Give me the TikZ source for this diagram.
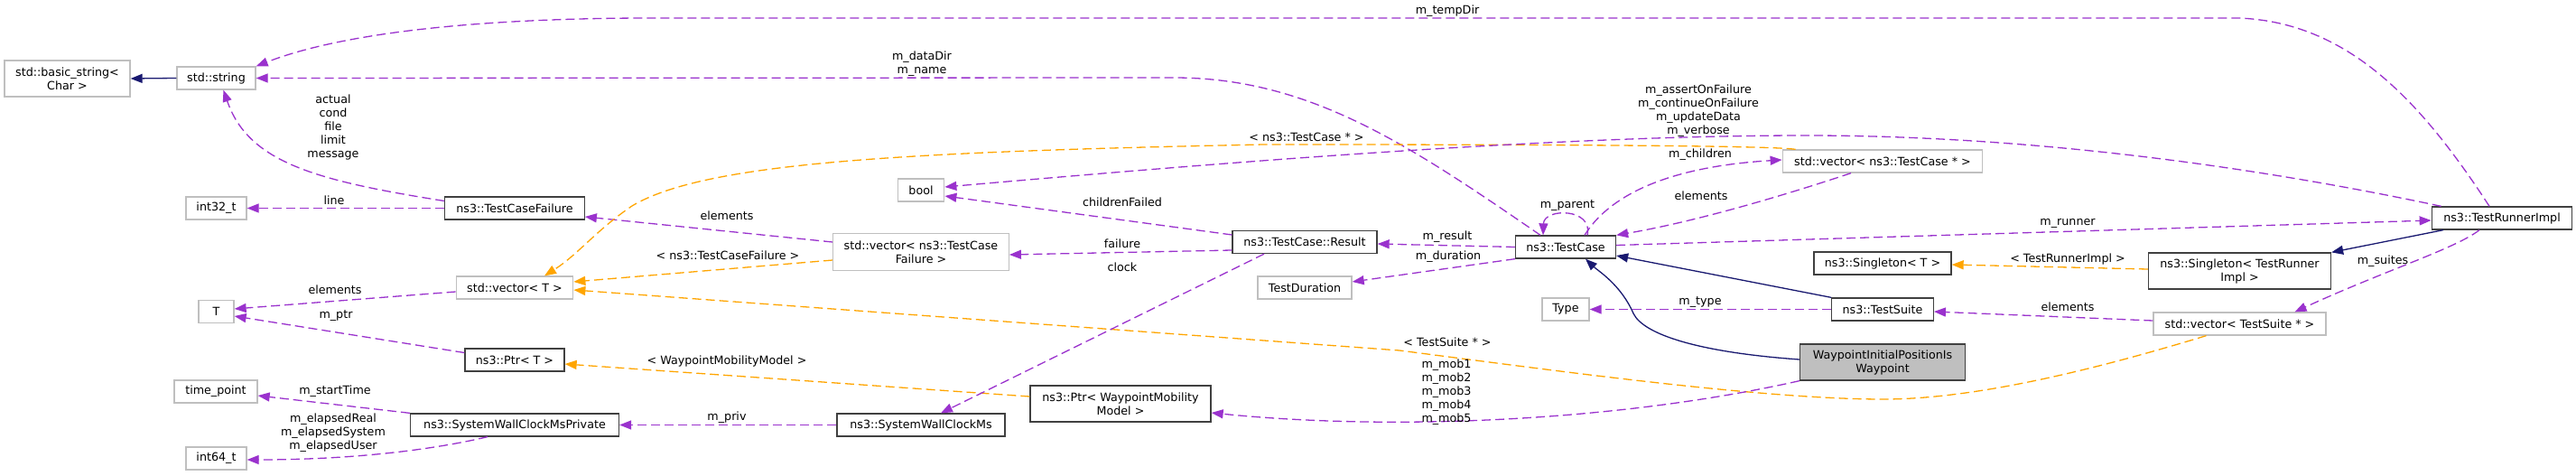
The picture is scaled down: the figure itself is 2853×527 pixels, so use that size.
\documentclass[tikz,border=0pt]{standalone}
\usepackage{fontspec}
\setmainfont{DejaVu Sans}
\usepackage{tikz}
\usetikzlibrary{arrows.meta}
\definecolor{dxpurple}{HTML}{9A32CD}
\definecolor{dxorange}{HTML}{FFA500}
\definecolor{dxnavy}{HTML}{191970}
\definecolor{dxgray}{HTML}{BFBFBF}
\definecolor{dxdark}{HTML}{404040}

\begin{document}
\begin{tikzpicture}[x=1pt,y=-1pt,>={Triangle[length=13pt,width=10pt]},line width=1.3pt,
  font=\fontsize{12.7}{15}\selectfont,
  cls/.style={draw=dxdark,fill=white,minimum height=25pt,inner xsep=3pt,inner ysep=2pt,align=center},
  ext/.style={cls,draw=dxgray},
  focus/.style={cls,fill=dxgray},
  uses/.style={->,dxpurple,dash pattern=on 10pt off 5pt},
  tmpl/.style={->,dxorange,dash pattern=on 10pt off 5pt},
  inh/.style={->,dxnavy},
  lbl/.style={inner sep=0pt,align=center,text=black}]
  \useasboundingbox (0,0) rectangle (2853,527);

  \node[ext, minimum width=139pt, minimum height=40pt] (bstr) at (74.5,87) {std::basic\_string<\\Char >};
  \node[ext, minimum width=87pt] (str) at (239.5,86.5) {std::string};
  \node[ext, minimum width=67pt] (i32) at (239.5,230.5) {int32\_t};
  \node[ext, minimum width=39pt] (tT) at (239.5,345) {T};
  \node[ext, minimum width=92pt] (tp) at (239,433.5) {time\_point};
  \node[ext, minimum width=67pt] (i64) at (239.5,507.5) {int64\_t};
  \node[cls, minimum width=154.5pt] (tcf) at (570,230.5) {ns3::TestCaseFailure};
  \node[ext, minimum width=129.5pt] (vecT) at (570,318.5) {std::vector< T >};
  \node[cls, minimum width=110pt] (ptrT) at (570,398.5) {ns3::Ptr< T >};
  \node[cls, minimum width=231pt] (swcp) at (570,470.5) {ns3::SystemWallClockMsPrivate};
  \node[ext, minimum width=194.5pt, minimum height=41pt] (vecF) at (1020,279) {std::vector< ns3::TestCase\\Failure >};
  \node[ext, minimum width=51.5pt] (bool) at (1020,210.5) {bool};
  \node[cls, minimum width=186pt] (swc) at (1020,470.5) {ns3::SystemWallClockMs};
  \node[cls, minimum width=200pt, minimum height=40pt] (ptrW) at (1241,447) {ns3::Ptr< WaypointMobility\\Model >};
  \node[cls, minimum width=160pt] (res) at (1445,268) {ns3::TestCase::Result};
  \node[ext, minimum width=104pt] (dur) at (1445,318.5) {TestDuration};
  \node[cls, minimum width=111pt] (tc) at (1734,273.5) {ns3::TestCase};
  \node[ext, minimum width=52pt] (type) at (1734,342.5) {Type};
  \node[ext, minimum width=221.5pt] (vecC) at (2085,178.5) {std::vector< ns3::TestCase * >};
  \node[cls, minimum width=152pt] (sgT) at (2085,291.5) {ns3::Singleton< T >};
  \node[cls, minimum width=112.5pt] (ts) at (2085,342.5) {ns3::TestSuite};
  \node[focus, minimum width=183pt, minimum height=40pt] (wip) at (2085,401) {WaypointInitialPositionIs\\Waypoint};
  \node[cls, minimum width=155.5pt] (tri) at (2771,241.5) {ns3::TestRunnerImpl};
  \node[cls, minimum width=202pt, minimum height=40pt] (sgR) at (2480.5,300) {ns3::Singleton< TestRunner\\Impl >};
  \node[ext, minimum width=191pt] (vecS) at (2480.5,358.5) {std::vector< TestSuite * >};

  \draw[inh] (str.west) -- (bstr.east);
  \draw[uses] ([xshift=-14pt]tri.north) .. controls (2680,110) and (2600,25) .. (2480,20) -- (720,20) .. controls (560,20) and (390,32) .. (str.north east);
  \draw[uses] ([xshift=-28pt]tc.north) .. controls (1560,160) and (1450,86) .. (1300,86) -- (str.east);
  \draw[uses] ([yshift=8pt]tcf.west) .. controls (350,200) and (275,180) .. ([xshift=8pt]str.south);
  \draw[uses] (tcf.west) -- (i32.east);
  \draw[uses] ([yshift=-4.5pt]vecT.west) -- ([yshift=3pt]tT.east);
  \draw[uses] ([yshift=8pt]ptrT.west) -- ([yshift=-5pt]tT.east);
  \draw[uses] (swcp.north west) -- ([yshift=-4.5pt]tp.east);
  \draw[uses] ([xshift=-30pt]swcp.south) .. controls (470,500) and (380,509) .. ([yshift=-1.5pt]i64.east);
  \draw[uses] ([yshift=11pt]vecF.west) -- ([yshift=-9.5pt]tcf.east);
  \draw[tmpl] ([yshift=-9pt]vecF.west) -- ([yshift=6.5pt]vecT.east);
  \draw[tmpl] ([xshift=15pt]vecC.north west) .. controls (1960,161) and (1700,160) .. (1400,160) .. controls (1000,168) and (780,180) .. (700,228) .. controls (660,255) and (640,282) .. ([xshift=33pt]vecT.north);
  \draw[tmpl] ([xshift=-37pt]vecS.south) .. controls (2350,400) and (2200,442) .. (2086,442) .. controls (1950,442) and (1720,410) .. (1550,388) -- ([yshift=-2.5pt]vecT.east);
  \draw[tmpl] ([yshift=8pt]ptrW.west) -- ([yshift=-4.5pt]ptrT.east);
  \draw[uses] ([yshift=8pt]res.west) -- ([yshift=-6.5pt]bool.east);
  \draw[uses] ([xshift=11pt]tri.north west) .. controls (2500,185) and (2250,150) .. (2000,150) .. controls (1700,150) and (1300,185) .. ([yshift=3.5pt]bool.east);
  \draw[uses] ([yshift=-9pt]res.west) -- ([yshift=-3pt]vecF.east);
  \draw[uses] ([xshift=-45pt]res.south) -- ([xshift=22pt]swc.north);
  \draw[uses] (swc.west) -- (swcp.east);
  \draw[uses] (wip.south west) .. controls (1800,465) and (1550,478) .. ([yshift=-10pt]ptrW.east);
  \draw[uses] (tc.west) -- ([yshift=-2pt]res.east);
  \draw[uses] (tc.south west) -- ([yshift=6.5pt]dur.east);
  \draw[uses] ([yshift=2pt]tc.east) -- ([yshift=-2.5pt]tri.west);
  \draw[inh] (ts.north west) -- ([yshift=-9.5pt]tc.east);
  \draw[inh] ([yshift=3pt]wip.west) .. controls (1880,390) and (1820,370) .. (1809,347) .. controls (1795,315) and (1770,300) .. ([xshift=22pt]tc.south);
  \draw[uses] (ts.west) -- (type.east);
  \draw[tmpl] ([yshift=2pt]sgR.west) -- ([yshift=-1.5pt]sgT.east);
  \draw[inh] ([xshift=-65pt]tri.south) -- (sgR.north east);
  \draw[uses] ([xshift=-25pt]tri.south) .. controls (2720,275) and (2640,300) .. ([xshift=61pt]vecS.north);
  \draw[uses] ([yshift=3.5pt]vecS.west) -- ([yshift=-2.5pt]ts.east);
  \draw[uses] ([xshift=-35pt]vecC.south) .. controls (1980,215) and (1880,245) .. (tc.north east);
  \draw[uses] ([xshift=21pt]tc.north) .. controls (1780,220) and (1840,185) .. ([yshift=1.5pt]vecC.west);
  \draw[uses] ([xshift=24pt]tc.north) .. controls (1765,230) and (1710,230) .. ([xshift=-25pt]tc.north);

  \node[lbl] (ltemp) at (1603,12) {m\_tempDir};
  \node[lbl] (ldata) at (1021,71) {m\_dataDir\\m\_name};
  \node[lbl] (lfail) at (369,140.5) {actual\\cond\\file\\limit\\message};
  \node[lbl] (lline) at (370,222) {line};
  \node[lbl] (lelT) at (371,321) {elements};
  \node[lbl] (lptr) at (372,350) {m\_ptr};
  \node[lbl] (lstart) at (371,433) {m\_startTime};
  \node[lbl] (lelap) at (369,479.5) {m\_elapsedReal\\m\_elapsedSystem\\m\_elapsedUser};
  \node[lbl] (lelF) at (805,239) {elements};
  \node[lbl] (ltcfT) at (806,283) {< ns3::TestCaseFailure >};
  \node[lbl] (lwmm) at (805,400) {< WaypointMobilityModel >};
  \node[lbl] (lpriv) at (805,462) {m\_priv};
  \node[lbl] (lchf) at (1243,224) {childrenFailed};
  \node[lbl] (ltcT) at (1447,152) {< ns3::TestCase * >};
  \node[lbl] (lfailure) at (1243,270) {failure};
  \node[lbl] (lclock) at (1243,296) {clock};
  \node[lbl] (lres) at (1603,262) {m\_result};
  \node[lbl] (ldur) at (1604,284) {m\_duration};
  \node[lbl] (ltsT) at (1603,379) {< TestSuite * >};
  \node[lbl] (lmob) at (1602,434.5) {m\_mob1\\m\_mob2\\m\_mob3\\m\_mob4\\m\_mob5};
  \node[lbl] (ltype) at (1883,335) {m\_type};
  \node[lbl] (lflags) at (1881,123) {m\_assertOnFailure\\m\_continueOnFailure\\m\_updateData\\m\_verbose};
  \node[lbl] (lchild) at (1883,171) {m\_children};
  \node[lbl] (lpar) at (1736,228) {m\_parent};
  \node[lbl] (lelC) at (1884,217) {elements};
  \node[lbl] (lrun) at (2290,247) {m\_runner};
  \node[lbl] (ltriT) at (2290,287) {< TestRunnerImpl >};
  \node[lbl] (lelS) at (2290,340) {elements};
  \node[lbl] (lsuites) at (2639,289) {m\_suites};
\end{tikzpicture}
\end{document}
